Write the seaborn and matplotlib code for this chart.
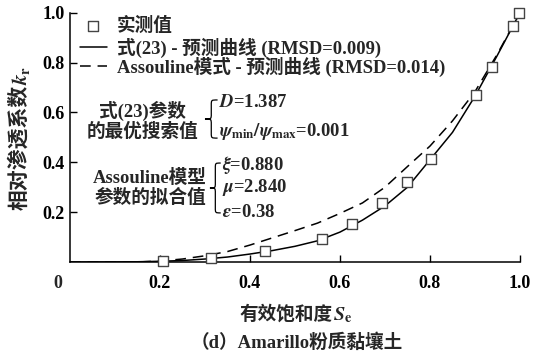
import numpy as np
import matplotlib
matplotlib.use('Agg')
import matplotlib.pyplot as plt
from matplotlib.path import Path
from matplotlib.patches import PathPatch
import seaborn as sns

# measured points
se_obs = [0.207, 0.313, 0.433, 0.561, 0.627, 0.693, 0.748, 0.802, 0.902, 0.937, 0.985, 0.998]
kr_obs = [0.004, 0.015, 0.044, 0.092, 0.153, 0.237, 0.320, 0.415, 0.669, 0.784, 0.947, 0.997]

# curves
se_curve = [0.0, 0.15, 0.2, 0.25, 0.3, 0.35, 0.4, 0.45, 0.5, 0.55, 0.6, 0.65, 0.7, 0.75, 0.8, 0.85, 0.9, 0.95, 1.0]
kr_eq23 = [0.0, 0.001, 0.003, 0.006, 0.012, 0.02, 0.032, 0.046, 0.063, 0.085, 0.12, 0.168, 0.225, 0.30, 0.41, 0.52, 0.665, 0.83, 1.0]
kr_assouline = [0.0, 0.0, 0.004, 0.012, 0.025, 0.042, 0.068, 0.097, 0.126, 0.156, 0.195, 0.237, 0.30, 0.383, 0.465, 0.566, 0.683, 0.835, 1.0]

xticks = [0.2, 0.4, 0.6, 0.8, 1.0]
yticks = [0.2, 0.4, 0.6, 0.8, 1.0]
ticklabels = ['0.2', '0.4', '0.6', '0.8', '1.0']

lab_obs = '实测值'
lab_eq23 = '式(23) - 预测曲线 (RMSD=0.009)'
lab_ass = 'Assouline模式 - 预测曲线 (RMSD=0.014)'

sns.set_style('ticks')
plt.rcParams['font.family'] = ['Liberation Serif', 'Noto Sans CJK SC']
plt.rcParams['mathtext.fontset'] = 'stix'
plt.rcParams['font.weight'] = 'bold'
fs = 13.4

fig = plt.figure(figsize=(5.35, 3.56), dpi=100)
ax = fig.add_axes([0.1308, 0.264, 0.8411, 0.7003])

sns.lineplot(x=se_curve, y=kr_eq23, ax=ax, color='black', lw=1.1, label=lab_eq23)
sns.lineplot(x=se_curve, y=kr_assouline, ax=ax, color='black', lw=1.1,
             linestyle=(0, (7, 4.5)), label=lab_ass)
sns.scatterplot(x=se_obs, y=kr_obs, ax=ax, marker='s', s=42, facecolor='white',
                edgecolor='#444444', linewidth=1.0, zorder=5, clip_on=False, label=lab_obs)

ax.set_xlim(0, 1.0)
ax.set_ylim(0, 1.0)
ax.set_xticks(xticks)
ax.set_yticks(yticks)
ax.set_xticklabels(ticklabels, fontsize=13, fontweight='bold')
ax.set_yticklabels(ticklabels, fontsize=13, fontweight='bold')
ax.tick_params(direction='in', length=5, width=1.0, colors='black')
ax.tick_params(axis='x', pad=9)
ax.tick_params(axis='y', pad=4)
sns.despine(ax=ax)
for s in ['left', 'bottom']:
    ax.spines[s].set_linewidth(1.1)
    ax.spines[s].set_color('black')

ax.annotate('0', xy=(-0.027, 0), xycoords=('data', 'axes fraction'), xytext=(0, -9),
            textcoords='offset points', ha='center', va='top', fontsize=13, fontweight='bold')

# axis titles: CJK part and math part drawn side by side
fig.text(333 / 535, 1 - 320 / 356, '有效饱和度', ha='right', va='baseline', fontsize=fs)
fig.text(333 / 535, 1 - 320 / 356, '$S_{\\rm e}$', ha='left', va='baseline', fontsize=fs + 1)
fig.text(19.5 / 535, 1 - 85 / 356, '相对渗透系数', ha='center', va='top', rotation=90, fontsize=15)
fig.text(21 / 535, 1 - 85 / 356, '$k_{\\rm r}$', ha='center', va='bottom', rotation=90, fontsize=15)
fig.text(0.555, 1 - 343 / 356, '（d）Amarillo粉质黏壤土', ha='center', va='center', fontsize=fs)

h, l = ax.get_legend_handles_labels()
leg1 = ax.legend([h[2]], [l[2]], loc='center left', bbox_to_anchor=(0.022, (262 - 26) / 249.3),
                 frameon=False, fontsize=fs, handlelength=1.45, handletextpad=0.54,
                 borderpad=0, borderaxespad=0, scatterpoints=1)
ax.add_artist(leg1)
ax.legend(h[:2], l[:2], loc='center left', bbox_to_anchor=(0.022, (262 - 57.3) / 249.3),
          frameon=False, fontsize=fs, handlelength=1.45, handletextpad=0.54,
          labelspacing=-0.05, borderpad=0, borderaxespad=0)


def brace(x, y0, y1, w, d):
    ym = (y0 + y1) / 2
    xm = x + w / 2
    verts = [(x + w, y1), (xm, y1), (xm, y1), (xm, y1 - d),
             (xm, ym + d), (xm, ym), (xm, ym), (x, ym),
             (xm, ym), (xm, ym), (xm, ym - d),
             (xm, y0 + d), (xm, y0), (xm, y0), (x + w, y0)]
    codes = [Path.MOVETO, Path.CURVE4, Path.CURVE4, Path.CURVE4,
             Path.LINETO, Path.CURVE4, Path.CURVE4, Path.CURVE4,
             Path.CURVE4, Path.CURVE4, Path.CURVE4,
             Path.LINETO, Path.CURVE4, Path.CURVE4, Path.CURVE4]
    ax.add_patch(PathPatch(Path(verts, codes), fill=False, lw=0.9, color='black'))


ax.text(0.162, 0.565, '式(23)参数\n的最优搜索值', ha='center', va='center',
        fontsize=fs, linespacing=1.15)
brace(0.300, 0.497, 0.650, 0.028, 0.02)
ax.text(0.331, 0.640, '$D$=1.387', ha='left', va='center', fontsize=fs)
ax.text(0.331, 0.525, '$\\psi_{\\rm min}/\\psi_{\\rm max}$=0.001', ha='left', va='center', fontsize=fs)

ax.text(0.178, 0.297, 'Assouline模型\n参数的拟合值', ha='center', va='center',
        fontsize=fs, linespacing=1.15)
brace(0.311, 0.197, 0.397, 0.024, 0.02)
ax.text(0.338, 0.389, '$\\xi$=0.880', ha='left', va='center', fontsize=fs)
ax.text(0.338, 0.297, '$\\mu$=2.840', ha='left', va='center', fontsize=fs)
ax.text(0.338, 0.197, '$\\varepsilon$=0.38', ha='left', va='center', fontsize=fs)

plt.savefig('out.png', dpi=100)
